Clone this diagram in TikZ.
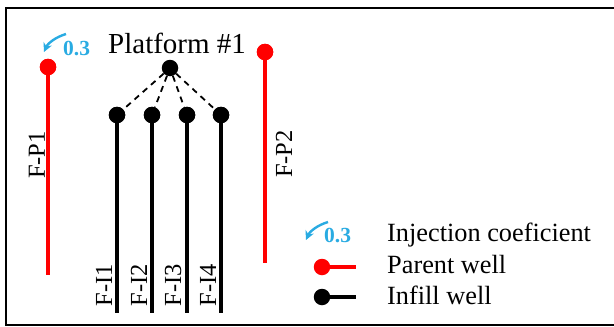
\documentclass[tikz,border=0pt]{standalone}
\usepackage{fontspec}
\setmainfont{Liberation Serif}
\usetikzlibrary{arrows.meta}
\definecolor{wellred}{RGB}{255,0,0}
\definecolor{coefblue}{RGB}{41,171,226}
\tikzset{
  dot/.style={circle,fill=#1,inner sep=0pt,minimum size=16.5pt},
  wellline/.style={draw=#1,line width=4pt},
  link/.style={draw=black,line width=1.8pt,dash pattern=on 6pt off 5pt},
  welllabel/.style={rotate=90,anchor=base,inner sep=0pt,font=\fontsize{24.5}{28}\selectfont},
  bigtext/.style={inner sep=0pt,anchor=base west,font=\fontsize{26.3}{32}\selectfont},
  coef/.style={inner sep=0pt,anchor=base west,text=coefblue,font=\fontsize{21.5}{24}\selectfont\bfseries},
  coefarrow/.style={draw=coefblue,line width=2.4pt,-{Stealth[length=9pt,width=9pt]}}
}
\begin{document}
\begin{tikzpicture}[x=1pt,y=-1pt]
\useasboundingbox (0,0) rectangle (614,327);
% frame
\draw[line width=2pt] (6,8) rectangle (630,325);

% parent wells
\node[dot=wellred] (p1) at (48,67) {};
\coordinate (p1end) at (48,275);
\draw[wellline=wellred] (p1.center) -- (p1end);
\node[dot=wellred] (p1) at (48,67) {};
\node[welllabel] (lp1) at (45,155) {F-P1};

\node[dot=wellred] (p2) at (265,52) {};
\coordinate (p2end) at (265,263);
\draw[wellline=wellred] (p2.center) -- (p2end);
\node[dot=wellred] (p2) at (265,52) {};
\node[welllabel] (lp2) at (292,154) {F-P2};

% platform
\node[bigtext,font=\fontsize{29}{34}\selectfont] (plat) at (108,53) {Platform \#1};
\node[dot=black] (hub) at (170,68) {};

% infill wells
\foreach \i/\x/\lx in {1/117/112, 2/152/147, 3/187/181, 4/221/216} {
  \node[dot=black] (i\i) at (\x,115) {};
  \coordinate (i\i end) at (\x,313);
  \draw[wellline=black] (i\i.center) -- (i\i end);
  \node[dot=black] at (\x,115) {};
  \draw[link] (hub) -- (i\i);
  \node[welllabel] (li\i) at (\lx,285) {F-I\i};
}

% injection coefficient marker
\coordinate (a1) at (66,34);
\coordinate (a2) at (44,52);
\draw[coefarrow] (a1) .. controls (56,37) and (48,43) .. (a2);
\node[coef] (c1) at (63,55) {0.3};

% legend
\coordinate (b1) at (328,222);
\coordinate (b2) at (306,240);
\draw[coefarrow] (b1) .. controls (318,225) and (310,231) .. (b2);
\node[coef] (c2) at (324,242) {0.3};
\node[bigtext] (t1) at (387,241) {Injection coeficient};

\node[dot=wellred] (lr) at (322,267) {};
\coordinate (lrend) at (356,267);
\draw[wellline=wellred] (lr.center) -- (lrend);
\node[bigtext] (t2) at (387,273) {Parent well};

\node[dot=black] (lb) at (322,297) {};
\coordinate (lbend) at (356,297);
\draw[wellline=black] (lb.center) -- (lbend);
\node[bigtext] (t3) at (387,304) {Infill well};
\end{tikzpicture}
\end{document}
